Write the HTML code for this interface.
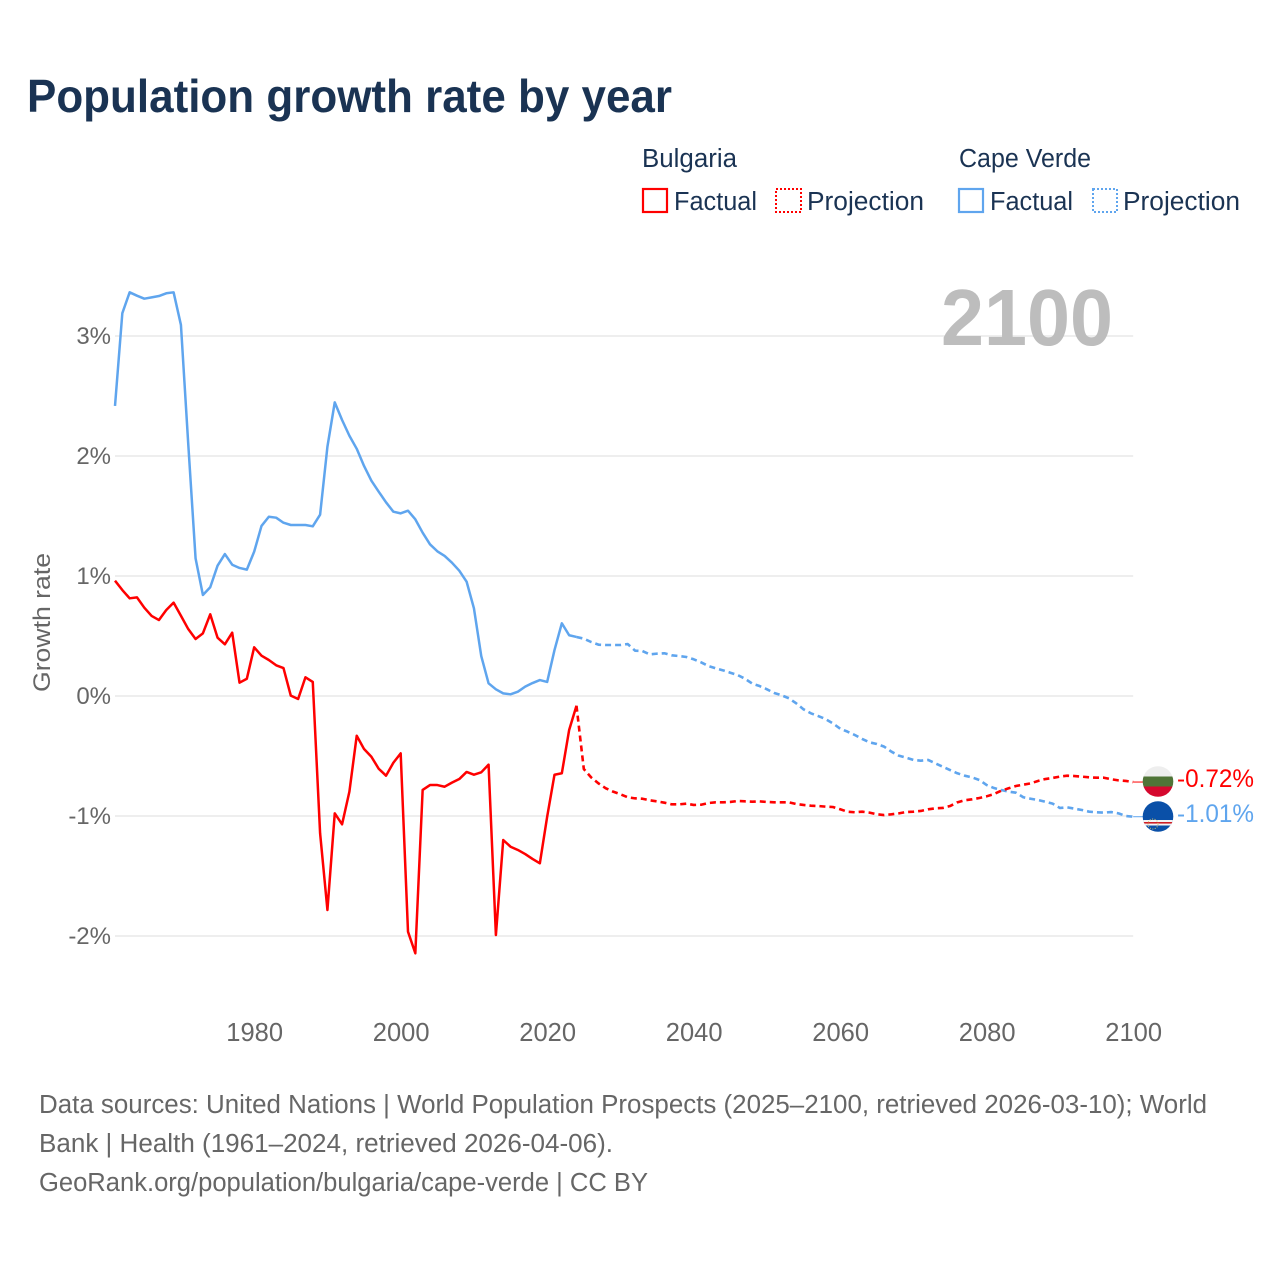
<!DOCTYPE html>
<html lang="en">
<head>
<meta charset="utf-8">
<title>Population growth rate by year</title>
<style>
html,body{margin:0;padding:0;background:#fff;}
svg{display:block;}
text{font-family:"Liberation Sans",sans-serif;}
</style>
</head>
<body>
<svg id="chart" xmlns="http://www.w3.org/2000/svg" width="1280" height="1280" viewBox="0 0 1280 1280">
  <rect x="0" y="0" width="1280" height="1280" fill="#ffffff"/>
  <text x="27" y="112" font-size="46.5" font-weight="bold" fill="#1a3353" textLength="645" lengthAdjust="spacingAndGlyphs">Population growth rate by year</text>

  <g font-size="25.5" fill="#1a3353">
    <text x="642" y="167" textLength="95" lengthAdjust="spacingAndGlyphs">Bulgaria</text>
    <text x="959" y="167" textLength="132" lengthAdjust="spacingAndGlyphs">Cape Verde</text>
    <rect x="643" y="189" width="24" height="23" fill="none" stroke="#ff0000" stroke-width="2.2"/>
    <text x="674" y="210" textLength="83" lengthAdjust="spacingAndGlyphs">Factual</text>
    <rect x="776" y="189" width="25" height="23" fill="none" stroke="#ff0000" stroke-width="2" stroke-dasharray="2 2"/>
    <text x="807" y="210" textLength="117" lengthAdjust="spacingAndGlyphs">Projection</text>
    <rect x="959" y="189" width="24" height="23" fill="none" stroke="#5fa5ee" stroke-width="2.2"/>
    <text x="990" y="210" textLength="83" lengthAdjust="spacingAndGlyphs">Factual</text>
    <rect x="1093" y="189" width="24" height="23" fill="none" stroke="#5fa5ee" stroke-width="2" stroke-dasharray="2 2"/>
    <text x="1123" y="210" textLength="117" lengthAdjust="spacingAndGlyphs">Projection</text>
  </g>

  <g id="grid"></g>
  <g id="yticks"></g>
  <g id="xticks"></g>

  <text x="941" y="345" font-size="80" font-weight="bold" fill="#bdbdbd" textLength="172" lengthAdjust="spacingAndGlyphs">2100</text>

  <text transform="translate(50,692) rotate(-90)" font-size="24.5" fill="#666666" textLength="139" lengthAdjust="spacingAndGlyphs">Growth rate</text>

  <g id="series"></g>

  <defs>
    <clipPath id="clip-bg"><circle cx="1158" cy="781.5" r="15.3"/></clipPath>
    <clipPath id="clip-cv"><circle cx="1158" cy="816.5" r="15.3"/></clipPath>
  </defs>
  <g clip-path="url(#clip-bg)">
    <rect x="1142" y="765" width="32" height="12" fill="#eeeeee"/>
    <rect x="1142" y="776.5" width="32" height="10" fill="#4f7437"/>
    <rect x="1142" y="786.5" width="32" height="12" fill="#d5082e"/>
  </g>
  <g clip-path="url(#clip-cv)">
    <rect x="1142" y="800" width="32" height="34" fill="#0a50a8"/>
    <rect x="1142" y="820" width="32" height="5.5" fill="#f4f4f4"/>
    <rect x="1142" y="822" width="32" height="1.6" fill="#cf2027"/>
    <circle cx="1153" cy="824" r="5" fill="none" stroke="#d9c46a" stroke-width="1" stroke-dasharray="1 1.5"/>
  </g>
  <text x="1177" y="787" font-size="25" fill="#ff0000" textLength="77" lengthAdjust="spacingAndGlyphs">-0.72%</text>
  <text x="1177" y="822" font-size="25" fill="#5fa5ee" textLength="77" lengthAdjust="spacingAndGlyphs">-1.01%</text>

  <g font-size="25.5" fill="#666666">
    <text x="39" y="1113" textLength="1168" lengthAdjust="spacingAndGlyphs">Data sources: United Nations | World Population Prospects (2025–2100, retrieved 2026-03-10); World</text>
    <text x="39" y="1152" textLength="574" lengthAdjust="spacingAndGlyphs">Bank | Health (1961–2024, retrieved 2026-04-06).</text>
    <text x="39" y="1191" textLength="609" lengthAdjust="spacingAndGlyphs">GeoRank.org/population/bulgaria/cape-verde | CC BY</text>
  </g>
</svg>

<script>
const factualStartYear = 1961;
const projectionStartYear = 2024;
const yTickValues = [3, 2, 1, 0, -1, -2];
const yTickLabels = ["3%", "2%", "1%", "0%", "-1%", "-2%"];
const xTickYears = [1980, 2000, 2020, 2040, 2060, 2080, 2100];
const xTickLabels = ["1980", "2000", "2020", "2040", "2060", "2080", "2100"];

const capeVerdeFactual = [2.417,3.19,3.364,3.336,3.311,3.322,3.333,3.356,3.364,3.092,2.1,1.147,0.842,0.906,1.086,1.183,1.094,1.067,1.053,1.203,1.417,1.494,1.486,1.444,1.425,1.425,1.425,1.414,1.511,2.078,2.447,2.3,2.169,2.06,1.917,1.794,1.703,1.614,1.536,1.522,1.544,1.472,1.361,1.264,1.206,1.167,1.111,1.044,0.953,0.731,0.333,0.106,0.056,0.022,0.014,0.036,0.078,0.108,0.133,0.117,0.383,0.606,0.506,0.492];
const capeVerdeProjection = [0.492,0.478,0.45,0.428,0.425,0.425,0.425,0.433,0.378,0.375,0.347,0.353,0.356,0.339,0.333,0.325,0.306,0.281,0.25,0.231,0.214,0.194,0.175,0.144,0.103,0.083,0.056,0.025,0.006,-0.019,-0.061,-0.111,-0.144,-0.167,-0.192,-0.228,-0.272,-0.297,-0.325,-0.358,-0.386,-0.4,-0.422,-0.464,-0.497,-0.514,-0.533,-0.539,-0.533,-0.561,-0.589,-0.617,-0.644,-0.664,-0.678,-0.7,-0.742,-0.767,-0.783,-0.797,-0.806,-0.844,-0.856,-0.867,-0.881,-0.897,-0.933,-0.928,-0.939,-0.95,-0.964,-0.969,-0.972,-0.967,-0.978,-1.0,-1.006];
const bulgariaFactual = [0.961,0.883,0.814,0.822,0.736,0.667,0.633,0.717,0.778,0.669,0.558,0.475,0.522,0.681,0.486,0.431,0.528,0.111,0.144,0.406,0.336,0.3,0.256,0.233,0.003,-0.025,0.156,0.117,-1.144,-1.783,-0.978,-1.069,-0.797,-0.331,-0.442,-0.506,-0.606,-0.664,-0.556,-0.478,-1.964,-2.144,-0.783,-0.742,-0.742,-0.756,-0.722,-0.692,-0.633,-0.656,-0.636,-0.572,-1.992,-1.2,-1.256,-1.283,-1.317,-1.358,-1.394,-1.006,-0.656,-0.644,-0.283,-0.081];
const bulgariaProjection = [-0.081,-0.608,-0.678,-0.728,-0.769,-0.797,-0.819,-0.844,-0.853,-0.856,-0.869,-0.878,-0.889,-0.903,-0.903,-0.897,-0.908,-0.906,-0.892,-0.886,-0.886,-0.883,-0.875,-0.878,-0.881,-0.878,-0.883,-0.886,-0.886,-0.886,-0.9,-0.908,-0.914,-0.917,-0.922,-0.925,-0.944,-0.964,-0.969,-0.964,-0.972,-0.986,-0.992,-0.986,-0.978,-0.967,-0.964,-0.958,-0.944,-0.936,-0.933,-0.917,-0.886,-0.869,-0.861,-0.85,-0.836,-0.817,-0.789,-0.769,-0.75,-0.739,-0.728,-0.708,-0.692,-0.683,-0.672,-0.664,-0.667,-0.672,-0.678,-0.681,-0.681,-0.694,-0.703,-0.708,-0.717];

const NS = "http://www.w3.org/2000/svg";

function xScale(year) {
  return 115 + (year - 1961) * 7.325;
}
function yScale(value) {
  return 696 - value * 120;
}
function linePath(values, startYear) {
  return values.map(function (v, i) {
    return (i ? "L" : "M") + xScale(startYear + i).toFixed(2) + " " + yScale(v).toFixed(2);
  }).join(" ");
}

const gridGroup = document.getElementById("grid");
const yTickGroup = document.getElementById("yticks");
const xTickGroup = document.getElementById("xticks");
const seriesGroup = document.getElementById("series");

yTickValues.forEach(function (v, i) {
  const line = document.createElementNS(NS, "line");
  
  
  line.setAttribute("x1", xScale(1961));
  line.setAttribute("x2", xScale(2100));
  line.setAttribute("y1", yScale(v));
  line.setAttribute("y2", yScale(v));
  line.setAttribute("stroke", "#eeeeee");
  line.setAttribute("stroke-width", "2");
  gridGroup.appendChild(line);

  const label = document.createElementNS(NS, "text");
  
  
  label.setAttribute("x", "111");
  label.setAttribute("y", yScale(v) + 8);
  label.setAttribute("text-anchor", "end");
  label.setAttribute("font-size", "24");
  label.setAttribute("fill", "#666666");
  label.textContent = yTickLabels[i];
  yTickGroup.appendChild(label);
});

xTickYears.forEach(function (year, i) {
  const label = document.createElementNS(NS, "text");
  
  
  label.setAttribute("x", xScale(year) + 0.5);
  label.setAttribute("y", "1041");
  label.setAttribute("text-anchor", "middle");
  label.setAttribute("font-size", "25.5");
  label.setAttribute("fill", "#666666");
  label.textContent = xTickLabels[i];
  xTickGroup.appendChild(label);
});

function addSeries(values, startYear, color, dashed, name) {
  const path = document.createElementNS(NS, "path");
  
  
  path.setAttribute("d", linePath(values, startYear));
  path.setAttribute("fill", "none");
  path.setAttribute("stroke", color);
  path.setAttribute("stroke-width", dashed ? "2.6" : "2.5");
  path.setAttribute("stroke-linejoin", "round");
  if (dashed) {
    path.setAttribute("stroke-dasharray", "6 4");
  }
  seriesGroup.appendChild(path);
}

function addConnector(values, color, name) {
  const last = values[values.length - 1];
  const line = document.createElementNS(NS, "line");
  
  
  line.setAttribute("x1", xScale(2100));
  line.setAttribute("x2", xScale(2100) + 10);
  line.setAttribute("y1", yScale(last));
  line.setAttribute("y2", yScale(last));
  line.setAttribute("stroke", color);
  line.setAttribute("stroke-width", "1");
  seriesGroup.appendChild(line);
}

addSeries(capeVerdeProjection, projectionStartYear, "#5fa5ee", true, "line-cape-verde-projection");
addSeries(capeVerdeFactual, factualStartYear, "#5fa5ee", false, "line-cape-verde-factual");
addSeries(bulgariaProjection, projectionStartYear, "#ff0000", true, "line-bulgaria-projection");
addSeries(bulgariaFactual, factualStartYear, "#ff0000", false, "line-bulgaria-factual");
addConnector(capeVerdeProjection, "#5fa5ee", "connector-cape-verde");
addConnector(bulgariaProjection, "#ff0000", "connector-bulgaria");
</script>
</body>
</html>
